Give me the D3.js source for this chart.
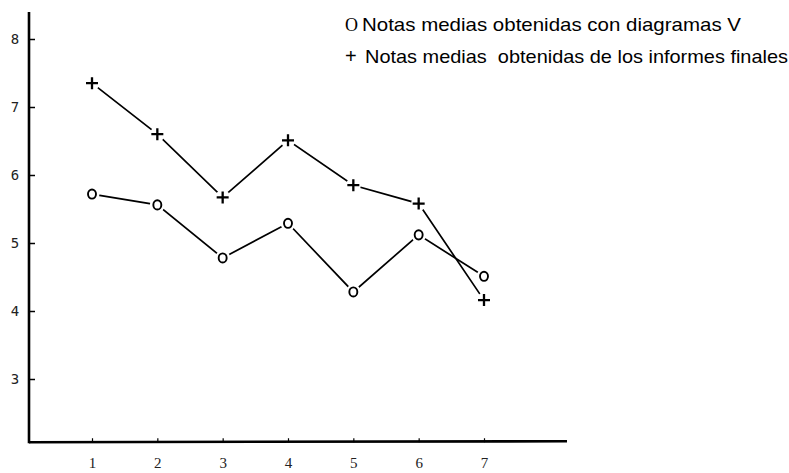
<!DOCTYPE html>
<html>
<head>
<meta charset="utf-8">
<script src="https://cdn.jsdelivr.net/npm/d3@7"></script>
<style>
  body { margin: 0; background: #fff; }
  svg { display: block; }
</style>
</head>
<body>
<div id="chart"></div>
<script>
const width = 789;
const height = 473;

// data
const grupos = [1, 2, 3, 4, 5, 6, 7];
const notasDiagramasV = [5.72, 5.56, 4.78, 5.29, 4.28, 5.12, 4.51];
const notasInformes = [7.35, 6.60, 5.67, 6.51, 5.85, 5.58, 4.16];
const yTicks = [3, 4, 5, 6, 7, 8];
const leyenda = [
  { simbolo: 'O', texto: 'Notas medias obtenidas con diagramas V' },
  { simbolo: '+', texto: 'Notas medias  obtenidas de los informes finales' }
];

const svg = d3.select('#chart')
              .append('svg')
              .attr('width', width)
              .attr('height', height);

const xScale = d3.scaleLinear()
                 .domain([1, 7])
                 .range([92, 484]);

const yScale = d3.scaleLinear()
                 .domain([3, 8])
                 .range([379, 39]);

const axisX0 = 29;
const axisY0 = yScale(2.07);

// y axis
svg.append('line')
   .attr('x1', axisX0).attr('x2', axisX0)
   .attr('y1', 12).attr('y2', axisY0 + 1)
   .attr('stroke', '#000')
   .attr('stroke-width', 2.6);

const yAxis = d3.axisRight(yScale)
                .tickValues(yTicks)
                .tickSize(6)
                .tickFormat(d3.format('d'));

const gy = svg.append('g')
              .attr('id', 'y-axis')
              .attr('transform', 'translate(' + axisX0 + ', 0)')
              .call(yAxis);
gy.select('.domain').remove();
gy.selectAll('.tick line').attr('stroke', '#000').attr('stroke-width', 1.5);
gy.selectAll('.tick text')
  .attr('x', -14)
  .attr('text-anchor', 'middle')
  .attr('fill', '#222')
  .style('font-family', '"DejaVu Sans Mono", monospace')
  .style('font-size', '14px');

// x axis
svg.append('line')
   .attr('x1', axisX0).attr('x2', 567)
   .attr('y1', axisY0).attr('y2', axisY0 - 1)
   .attr('stroke', '#000')
   .attr('stroke-width', 2.6);

const xAxis = d3.axisTop(xScale)
                .tickValues(grupos)
                .tickSize(4)
                .tickFormat(d3.format('d'));

const gx = svg.append('g')
              .attr('id', 'x-axis')
              .attr('transform', 'translate(0, ' + axisY0 + ')')
              .call(xAxis);
gx.select('.domain').remove();
gx.selectAll('.tick line').attr('stroke', '#000').attr('stroke-width', 1.2);
gx.selectAll('.tick text')
  .attr('y', 26)
  .attr('fill', '#222')
  .style('font-family', '"Liberation Serif", serif')
  .style('font-size', '15px');

const line = d3.line()
               .x((d, i) => xScale(grupos[i]))
               .y((d) => yScale(d));

[notasDiagramasV, notasInformes].forEach((serie) => {
  svg.append('path')
     .datum(serie)
     .attr('d', line)
     .attr('fill', 'none')
     .attr('stroke', '#000')
     .attr('stroke-width', 1.7);
});

// white gaps round the markers, like the hand drawn original
const halos = svg.append('g');
[notasDiagramasV, notasInformes].forEach((serie) => {
  halos.selectAll(null)
       .data(serie)
       .enter()
       .append('circle')
       .attr('cx', (d, i) => xScale(grupos[i]))
       .attr('cy', (d) => yScale(d))
       .attr('r', 7.5)
       .attr('fill', '#fff');
});

svg.selectAll('.circulo')
   .data(notasDiagramasV)
   .enter()
   .append('ellipse')
   .attr('class', 'circulo')
   .attr('cx', (d, i) => xScale(grupos[i]))
   .attr('cy', (d) => yScale(d))
   .attr('rx', 4)
   .attr('ry', 4.6)
   .attr('fill', 'none')
   .attr('stroke', '#000')
   .attr('stroke-width', 1.9);

svg.selectAll('.cruz')
   .data(notasInformes)
   .enter()
   .append('path')
   .attr('class', 'cruz')
   .attr('d', (d, i) => {
     const x = xScale(grupos[i]);
     const y = yScale(d);
     return 'M' + (x - 6) + ',' + y + 'H' + (x + 6) + 'M' + x + ',' + (y - 6) + 'V' + (y + 6);
   })
   .attr('stroke', '#000')
   .attr('stroke-width', 2.3);

// legend
const leg = svg.append('g');
leyenda.forEach((item, i) => {
  const y = 31 + i * 32;
  leg.append('text')
     .attr('x', 345)
     .attr('y', y)
     .style('font-family', item.simbolo === 'O' ? '"Liberation Serif", "DejaVu Serif", serif' : '"Liberation Sans", sans-serif')
     .style('font-size', item.simbolo === 'O' ? '18px' : '20px')
     .text(item.simbolo);
  leg.append('text')
     .attr('x', i === 0 ? 362 : 365)
     .attr('y', y)
     .attr('textLength', i === 0 ? 379 : 423)
     .attr('lengthAdjust', 'spacingAndGlyphs')
     .style('font-family', '"Liberation Sans Narrow", "Liberation Sans", sans-serif')
     .style('font-size', '19px')
     .style('white-space', 'pre')
     .text(item.texto);
});
</script>
</body>
</html>
